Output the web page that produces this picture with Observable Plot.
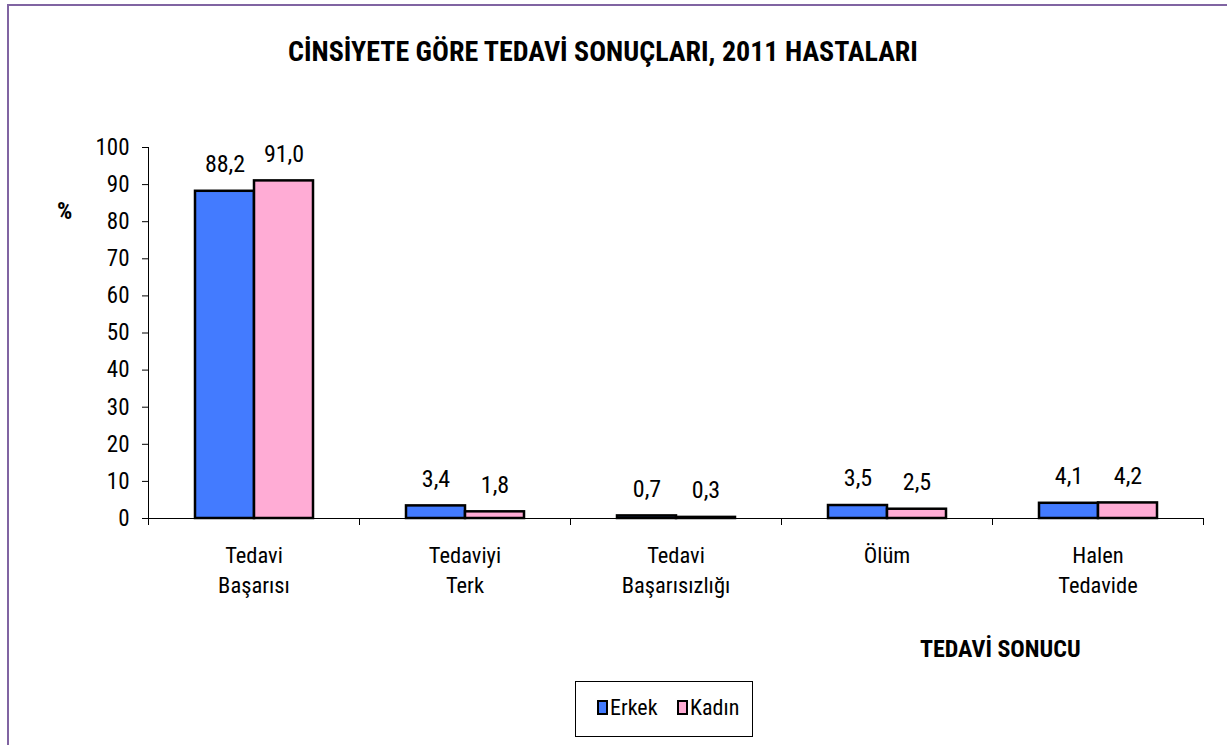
<!DOCTYPE html>
<html>
<head>
<meta charset="utf-8">
<script src="https://cdn.jsdelivr.net/npm/d3@7"></script>
<script src="https://cdn.jsdelivr.net/npm/@observablehq/plot@0.6"></script>
<style>
  html, body { margin: 0; padding: 0; background: #fff; }
  #wrap { position: relative; width: 1227px; height: 745px; overflow: hidden;
    font-family: "Liberation Sans Narrow", "Arial Narrow", "Roboto Condensed", "DejaVu Sans Condensed", sans-serif; }
  #border { position: absolute; left: 7px; top: 4px; width: 1300px; height: 800px; pointer-events: none;
    border-top: 2px solid #8064a2; border-left: 2px solid #8064a2; }
  #chart { position: absolute; left: 0; top: 0; }
  .lbl { position: absolute; font-weight: bold; color: #000; white-space: nowrap; }
  #title { left: 0; width: 1206px; top: 35px; text-align: center; font-size: 28px; }
  #pct { left: 57px; top: 197px; font-size: 24px; }
  #xlab { left: 920px; top: 635px; font-size: 24px; }
  #legend { position: absolute; left: 575px; top: 681px; width: 176px; height: 54px;
    border: 1px solid #000; background: #fff; font-size: 22px; }
  #legend .item { position: absolute; top: 13px; display: flex; align-items: center; }
  #legend .sw { width: 7px; height: 11px; border: 2px solid #000; margin-right: 2px; }
</style>
</head>
<body>
<div id="wrap">
  <div id="chart"></div>
  <div id="border"></div>
  <div class="lbl" id="title">CİNSİYETE GÖRE TEDAVİ SONUÇLARI, 2011 HASTALARI</div>
  <div class="lbl" id="pct">%</div>
  <div class="lbl" id="xlab">TEDAVİ SONUCU</div>
  <div id="legend"></div>
</div>
<script>
const categories = ["Tedavi Başarısı", "Tedaviyi Terk", "Tedavi Başarısızlığı", "Ölüm", "Halen Tedavide"];
const series = ["Erkek", "Kadın"];
const erkek = [88.2, 3.4, 0.7, 3.5, 4.1];
const kadin = [91.0, 1.8, 0.3, 2.5, 4.2];
const yTicks = [0, 10, 20, 30, 40, 50, 60, 70, 80, 90, 100];
const colors = ["#437bff", "#ffacd5"];

const FONT = '"Liberation Sans Narrow", "Arial Narrow", "Roboto Condensed", "DejaVu Sans Condensed", sans-serif';
const W = 1227, H = 745, ML = 147, MR = 24, MT = 147, MB = 227;
const plotH = H - MT - MB;

const data = [];
categories.forEach((c, i) => {
  data.push({category: c, series: series[0], value: erkek[i]});
  data.push({category: c, series: series[1], value: kadin[i]});
});
const fmt = v => d3.format(".1f")(v).replace(".", ",");

const chart = Plot.plot({
  width: W, height: H,
  marginLeft: ML, marginRight: MR, marginTop: MT, marginBottom: MB,
  style: {fontFamily: FONT, fontSize: "22px", background: "#fff", color: "#000", overflow: "visible"},
  fx: {domain: categories, padding: 0, label: null},
  x: {domain: series, paddingInner: 0, paddingOuter: 0.76, axis: null},
  y: {domain: [0, 100], label: null},
  color: {domain: series, range: colors},
  marks: [
    Plot.axisY({ticks: yTicks, tickSize: 6, tickPadding: 13, fontSize: 23, label: null, stroke: "#000", strokeOpacity: 1}),
    Plot.axisFx({anchor: "bottom", tickSize: 0, tickPadding: 23, fontSize: 22.5, lineHeight: 1.33,
      label: null, tickFormat: d => d.replace(" ", "\n")}),
    Plot.frame({anchor: "left", facetAnchor: "left", insetBottom: -6, stroke: "#000"}),
    Plot.frame({anchor: "left", insetTop: plotH, insetBottom: -6, stroke: "#000"}),
    Plot.frame({anchor: "right", facetAnchor: "right", insetTop: plotH, insetBottom: -6, stroke: "#000"}),
    Plot.ruleY([0], {stroke: "#000", strokeWidth: 1}),
    Plot.barY(data, {fx: "category", x: "series", y: "value", fill: "series",
      stroke: "#000", strokeWidth: 2.5}),
    Plot.text(data, {fx: "category", x: "series", y: "value", text: d => fmt(d.value),
      dy: -27, fontSize: 24, fill: "#000"})
  ]
});
document.getElementById("chart").appendChild(chart);

const legend = document.getElementById("legend");
const lefts = [21, 101];
series.forEach((s, i) => {
  const item = document.createElement("div");
  item.className = "item";
  item.style.left = lefts[i] + "px";
  const sw = document.createElement("span");
  sw.className = "sw";
  sw.style.background = colors[i];
  const t = document.createElement("span");
  t.textContent = s;
  item.appendChild(sw); item.appendChild(t);
  legend.appendChild(item);
});
</script>
</body>
</html>
